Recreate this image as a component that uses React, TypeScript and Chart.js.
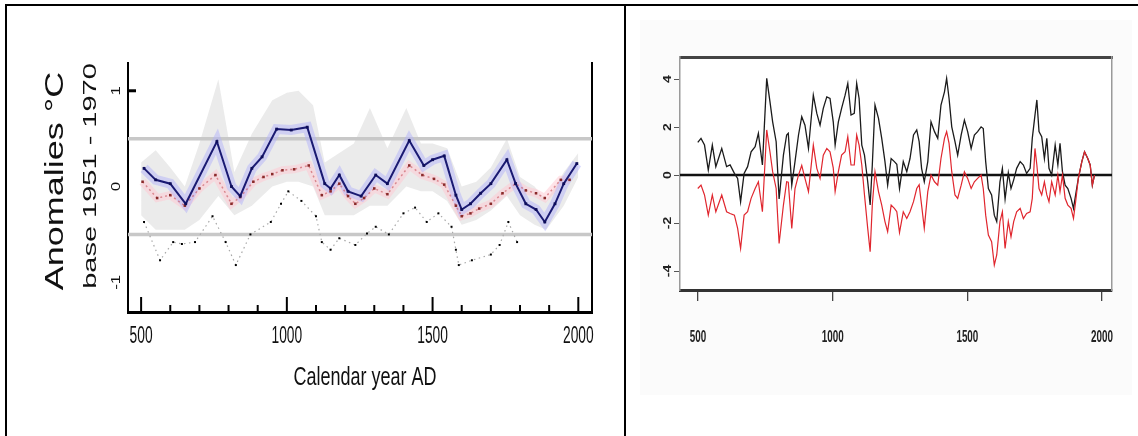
import React, { useEffect, useRef } from 'react';
import { Chart, registerables } from 'chart.js';
Chart.register(...registerables);

// ---------------- Left panel (reconstruction, anomalies °C) ----------------
const leftBlueYears = [510, 550, 600, 653, 760, 810, 840, 880, 915, 965, 1015, 1070, 1130, 1150, 1180, 1210, 1255, 1305, 1345, 1420, 1470, 1500, 1540, 1580, 1600, 1630, 1665, 1700, 1755, 1785, 1820, 1855, 1885, 1920, 1950, 1995];
const leftBlueValues = [0.19, 0.07, 0.03, -0.18, 0.47, 0.0, -0.1, 0.19, 0.31, 0.6, 0.59, 0.62, 0.03, -0.02, 0.12, -0.05, -0.1, 0.12, 0.03, 0.48, 0.22, 0.28, 0.32, -0.09, -0.24, -0.18, -0.07, 0.03, 0.28, 0.03, -0.18, -0.24, -0.37, -0.18, 0.03, 0.24];

const leftRedYears = [505, 555, 600, 650, 700, 755, 810, 840, 885, 920, 950, 985, 1025, 1075, 1120, 1150, 1180, 1210, 1235, 1265, 1300, 1345, 1420, 1465, 1505, 1540, 1580, 1600, 1630, 1660, 1700, 1740, 1785, 1820, 1855, 1885, 1940, 1970];
const leftRedValues = [0.05, -0.12, -0.09, -0.2, -0.02, 0.12, -0.18, -0.11, 0.05, 0.1, 0.13, 0.17, 0.18, 0.22, -0.09, -0.05, 0.03, -0.1, -0.18, -0.12, -0.02, -0.08, 0.22, 0.12, 0.08, 0.02, -0.2, -0.31, -0.28, -0.23, -0.18, -0.07, 0.03, -0.04, -0.07, -0.12, 0.07, 0.07];

const leftBlackYears = [510, 565, 610, 640, 685, 745, 790, 825, 875, 945, 980, 1005, 1050, 1100, 1120, 1150, 1180, 1235, 1275, 1305, 1350, 1400, 1440, 1480, 1520, 1565, 1580, 1590, 1635, 1700, 1730, 1760, 1790];
const leftBlackValues = [-0.37, -0.77, -0.58, -0.6, -0.58, -0.31, -0.58, -0.82, -0.5, -0.37, -0.18, -0.05, -0.15, -0.31, -0.58, -0.66, -0.54, -0.61, -0.49, -0.42, -0.5, -0.28, -0.22, -0.37, -0.28, -0.42, -0.66, -0.82, -0.77, -0.71, -0.61, -0.37, -0.58];

const leftBandYears = [500, 550, 600, 650, 700, 765, 820, 880, 950, 1000, 1040, 1090, 1130, 1180, 1230, 1285, 1345, 1410, 1460, 1500, 1550, 1600, 1650, 1700, 1755, 1800, 1850, 1890, 1950, 2000];
const leftBandUpper = [0.25, 0.38, 0.2, 0.0, 0.45, 1.12, 0.15, 0.55, 0.9, 0.98, 1.0, 0.85, 0.25, 0.35, 0.45, 0.82, 0.4, 0.82, 0.45, 0.45, 0.4, 0.0, 0.05, 0.2, 0.5, 0.1, 0.0, -0.15, 0.15, 0.35];
const leftBandLower = [-0.3, -0.45, -0.45, -0.45, -0.35, -0.1, -0.3, -0.2, 0.0, 0.05, 0.05, 0.0, -0.3, -0.3, -0.3, -0.2, -0.2, 0.0, -0.05, -0.05, -0.15, -0.4, -0.35, -0.25, -0.1, -0.3, -0.4, -0.45, -0.2, 0.1];

const leftRefLevels = [0.5, -0.5];
const leftXRange = [455, 2047];
const leftYRange = [-1.31, 1.29];
const leftXTickValues = [500, 1000, 1500, 2000];
const leftXTickLabels = ['500', '1000', '1500', '2000'];
const leftXMinorTicks = [600, 700, 800, 900, 1100, 1200, 1300, 1400, 1600, 1700, 1800, 1900];
const leftYTickValues = [1, 0, -1];
const leftYTickLabels = ['1', '0', '-1'];
const leftYTickMarks = [1];
const leftYTitle = ['Anomalies °C', 'base 1951 - 1970'];
const leftXTitle = 'Calendar year AD';

// ---------------- Right panel (two series around zero) ----------------
const rightYears = [
  499, 511, 524, 538, 553, 566, 588, 606, 619, 635,
  647, 658, 671, 684, 697, 712, 724, 739, 755, 767,
  777, 790, 801, 817, 829, 835, 848, 860, 873, 885,
  897, 910, 928, 941, 953, 965, 978, 990, 1002, 1009,
  1021, 1033, 1046, 1056, 1068, 1080, 1089, 1098, 1108, 1118,
  1130, 1139, 1147, 1157, 1170, 1182, 1194, 1204, 1217, 1229,
  1238, 1248, 1262, 1275, 1287, 1300, 1312, 1321, 1330, 1340,
  1353, 1365, 1378, 1390, 1402, 1415, 1423, 1432, 1442, 1454,
  1464, 1477, 1489, 1501, 1514, 1526, 1538, 1551, 1559, 1568,
  1578, 1590, 1600, 1609, 1621, 1630, 1640, 1652, 1662, 1672,
  1683, 1696, 1708, 1720, 1733, 1741, 1751, 1758, 1766, 1776,
  1786, 1795, 1803, 1813, 1826, 1836, 1844, 1853, 1863, 1873,
  1885, 1894, 1902, 1912, 1925, 1935, 1947, 1956, 1964, 1972,
];
const rightBlack = [
  1.36, 1.53, 1.25, 0.21, 1.25, 0.35, 1.11, 0.35, 0.42, 0.07,
  -0.14, -1.11, 0.07, 0.35, 0.97, 1.18, 1.74, 0.42, 4.03, 3.06,
  2.22, 1.39, -1.0, 0.83, 1.67, 1.74, -0.42, 0.56, 1.67, 2.43,
  2.08, 1.11, 3.33, 2.57, 2.08, 2.78, 3.26, 3.19, 2.22, 1.25,
  2.22, 2.78, 3.33, 3.82, 2.5, 2.57, 3.82, 3.19, 1.25, 0.83,
  -0.28, -1.25, 0.42, 2.92, 2.36, 1.53, 0.56, -0.42, 0.69, 0.56,
  0.45, -0.56, 0.56, 0.14, 0.69, 1.67, 1.88, 1.39, 0.28, -0.28,
  0.56, 2.22, 1.81, 1.53, 2.92, 3.47, 4.03, 3.19, 2.01, 1.39,
  0.83, 1.67, 2.29, 1.81, 1.11, 1.67, 1.81, 2.01, 1.94, 0.56,
  -0.56, -0.83, -1.67, -1.94, -0.28, 0.28, -1.0, 0.1, -0.56, -0.2,
  0.28, 0.56, 0.42, 0.07, 0.28, 1.53, 2.5, 3.13, 1.81, 1.6,
  0.69, 1.53, 0.28, 0.0, 1.25, 0.42, 1.32, 0.14, -0.42, -0.56,
  -0.97, -1.39, -0.83, -0.14, 0.56, 0.97, 0.69, 0.42, -0.42, 0.0,
];
const rightRed = [
  -0.56, -0.42, -0.83, -1.67, -0.83, -1.53, -0.83, -1.53, -1.6, -1.67,
  -2.22, -3.06, -1.67, -1.53, -0.97, -0.56, -0.28, -1.53, 1.88, 0.97,
  0.14, -0.56, -2.85, -1.25, -0.28, -0.3, -2.22, -0.56, 0.0, 0.4,
  -0.14, -0.69, 1.25, 0.28, -0.14, 0.83, 1.11, 0.97, 0.3, -0.69,
  0.14, 0.83, 0.97, 1.6, 0.42, 0.42, 1.67, 1.25, 0.42, -0.83,
  -2.22, -3.19, -1.25, 0.14, -0.69, -1.25, -1.94, -2.36, -1.25, -1.39,
  -1.53, -2.4, -1.53, -1.81, -1.53, -1.11, -0.56, -0.4, -1.25, -2.22,
  -0.69, 0.0, -0.28, -0.42, 0.69, 1.53, 1.81, 1.32, 0.14, -0.83,
  -0.97, -0.42, 0.14, -0.14, -0.56, -0.28, -0.14, 0.0, -0.56, -1.67,
  -2.5, -2.78, -3.75, -3.33, -1.94, -1.53, -3.06, -1.94, -2.57, -1.94,
  -1.53, -1.39, -1.81, -1.6, -1.53, -0.97, 1.11, 0.42, -0.56, -0.83,
  -0.28, -0.83, -1.11, -0.28, -0.83, 0.0, -0.69, 0.0, -0.97, -1.25,
  -1.39, -1.81, -1.11, -0.14, 0.56, 0.97, 0.69, 0.42, -0.42, 0.0,
];
const rightXRange = [433, 2037];
const rightYRange = [-4.79, 4.92];
const rightXTickValues = [500, 1000, 1500, 2000];
const rightXTickLabels = ['500', '1000', '1500', '2000'];
const rightYTickValues = [-4, -2, 0, 2, 4];
const rightYTickLabels = ['-4', '-2', '0', '2', '4'];

// ---------------- helpers ----------------
const FONT = '"Liberation Sans", Arial, Helvetica, sans-serif';
const pts = (xs: number[], ys: number[]) => xs.map((x, i) => ({ x, y: ys[i] }));

function txt(ctx: CanvasRenderingContext2D, s: string, x: number, y: number, size: number,
  o: { rot?: boolean; squeeze?: number; color?: string; align?: CanvasTextAlign; weight?: string } = {}) {
  ctx.save();
  ctx.font = `${o.weight || 'normal'} ${size}px ${FONT}`;
  ctx.fillStyle = o.color || '#111';
  ctx.textAlign = o.align || 'center';
  ctx.textBaseline = 'alphabetic';
  ctx.translate(x, y);
  if (o.rot) {
    ctx.rotate(-Math.PI / 2);
    ctx.scale(1, o.squeeze ?? 1);
  } else {
    ctx.scale(o.squeeze ?? 1, 1);
  }
  ctx.fillText(s, 0, 0);
  ctx.restore();
}

function seg(ctx: CanvasRenderingContext2D, x1: number, y1: number, x2: number, y2: number) {
  ctx.beginPath();
  ctx.moveTo(x1, y1);
  ctx.lineTo(x2, y2);
  ctx.stroke();
}

const leftDecor = {
  id: 'leftDecor',
  afterDraw(chart: any) {
    const { ctx, chartArea: a, scales } = chart;
    const x = scales.x, y = scales.y;
    ctx.save();
    ctx.strokeStyle = '#000';
    ctx.lineWidth = 2;
    leftXMinorTicks.forEach((v) => { const px = x.getPixelForValue(v); seg(ctx, px, a.bottom, px, a.bottom - 7); });
    leftXTickValues.forEach((v) => { const px = x.getPixelForValue(v); seg(ctx, px, a.bottom, px, a.bottom - 15); });
    ctx.lineWidth = 3;
    leftYTickMarks.forEach((v) => { const py = y.getPixelForValue(v); seg(ctx, a.left, py, a.left + 8, py); });
    ctx.restore();
    leftXTickValues.forEach((v, i) => txt(ctx, leftXTickLabels[i], x.getPixelForValue(v), a.bottom + 31, 23, { squeeze: 0.6 }));
    leftYTickValues.forEach((v, i) => txt(ctx, leftYTickLabels[i], a.left - 8, y.getPixelForValue(v), 17, { rot: true, squeeze: 0.8 }));
    txt(ctx, leftXTitle, 365, 385, 25, { squeeze: 0.72 });
    txt(ctx, leftYTitle[0], 63, 181, 36, { rot: true, squeeze: 0.72 });
    txt(ctx, leftYTitle[1], 96, 176, 29, { rot: true, squeeze: 0.64 });
  },
};

const rightDecor = {
  id: 'rightDecor',
  beforeDraw(chart: any) {
    const { ctx, chartArea: a } = chart;
    ctx.save();
    ctx.fillStyle = '#ffffff';
    ctx.fillRect(a.left, a.top, a.right - a.left, a.bottom - a.top);
    ctx.restore();
  },
  afterDraw(chart: any) {
    const { ctx, chartArea: a, scales } = chart;
    rightYTickValues.forEach((v, i) => txt(ctx, rightYTickLabels[i], a.left - 9, scales.y.getPixelForValue(v), 14, { rot: true, squeeze: 0.75, color: '#222', weight: 'bold' }));
    rightXTickValues.forEach((v, i) => txt(ctx, rightXTickLabels[i], scales.x.getPixelForValue(v), 342, 17, { squeeze: 0.58, color: '#222', weight: 'bold' }));
  },
};

const hidden = { display: false };

export default function App() {
  const leftRef = useRef<HTMLCanvasElement>(null);
  const rightRef = useRef<HTMLCanvasElement>(null);

  useEffect(() => {
    const left = new Chart(leftRef.current!, {
      type: 'line',
      data: {
        datasets: [
          { data: pts(leftBlueYears, leftBlueValues), borderColor: '#1a1a72', borderWidth: 2, pointStyle: 'rect', pointRadius: 2, pointBackgroundColor: '#0e0e5a', pointBorderWidth: 0, fill: false },
          { data: pts(leftRedYears, leftRedValues), borderColor: 'rgba(200,80,90,0.6)', borderWidth: 1.5, borderDash: [2, 3], pointStyle: 'rect', pointRadius: 1.8, pointBackgroundColor: '#8a2a2a', pointBorderWidth: 0, fill: false },
          { data: pts(leftBlackYears, leftBlackValues), borderColor: '#a8a8a8', borderWidth: 1.2, borderDash: [1.5, 3.5], pointStyle: 'rect', pointRadius: 1.4, pointBackgroundColor: '#000', pointBorderWidth: 0, fill: false },
          { data: pts(leftBlueYears, leftBlueValues), borderColor: 'rgba(180,180,250,0.5)', borderWidth: 10, pointRadius: 0, fill: false },
          { data: pts(leftRedYears, leftRedValues), borderColor: 'rgba(255,200,210,0.5)', borderWidth: 8, pointRadius: 0, fill: false },
          ...leftRefLevels.map((lv) => ({ data: [{ x: leftXRange[0], y: lv }, { x: leftXRange[1], y: lv }], borderColor: '#c8c8c8', borderWidth: 3.5, pointRadius: 0, fill: false })),
          { data: pts(leftBandYears, leftBandUpper), borderWidth: 0, borderColor: 'rgba(0,0,0,0)', backgroundColor: 'rgba(228,228,228,0.75)', pointRadius: 0, fill: '+1' },
          { data: pts(leftBandYears, leftBandLower), borderWidth: 0, borderColor: 'rgba(0,0,0,0)', pointRadius: 0, fill: false },
        ] as any,
      },
      options: {
        animation: false,
        responsive: false,
        events: [],
        layout: { padding: { top: 63, left: 0, right: 0, bottom: 0 } },
        plugins: { legend: hidden, tooltip: { enabled: false }, title: hidden },
        elements: { line: { tension: 0 } },
        scales: {
          x: { type: 'linear', position: 'bottom', min: leftXRange[0], max: leftXRange[1], grid: hidden, ticks: hidden, border: { display: true, color: '#000', width: 3 }, afterFit: (s: any) => { s.height = 124; } },
          y: { type: 'linear', position: 'left', min: leftYRange[0], max: leftYRange[1], grid: hidden, ticks: hidden, border: { display: true, color: '#000', width: 2 }, afterFit: (s: any) => { s.width = 128; } },
          y2: { type: 'linear', position: 'right', display: true, min: leftYRange[0], max: leftYRange[1], grid: hidden, ticks: hidden, border: { display: true, color: '#000', width: 2 }, afterFit: (s: any) => { s.width = 33; } },
        } as any,
      },
      plugins: [leftDecor],
    });

    const right = new Chart(rightRef.current!, {
      type: 'line',
      data: {
        datasets: [
          { data: pts(rightYears, rightRed), borderColor: '#e0262e', borderWidth: 1.2, pointRadius: 0, fill: false },
          { data: pts(rightYears, rightBlack), borderColor: '#1b1b1b', borderWidth: 1.3, pointRadius: 0, fill: false },
          { data: [{ x: rightXRange[0], y: 0 }, { x: rightXRange[1], y: 0 }], borderColor: '#111', borderWidth: 2.5, pointRadius: 0, fill: false },
        ] as any,
      },
      options: {
        animation: false,
        responsive: false,
        events: [],
        layout: { padding: 0 },
        plugins: { legend: hidden, tooltip: { enabled: false }, title: hidden },
        elements: { line: { tension: 0 } },
        scales: {
          x: {
            type: 'linear', position: 'bottom', min: rightXRange[0], max: rightXRange[1],
            grid: { display: true, drawOnChartArea: false, drawTicks: true, tickLength: 11, color: '#444', lineWidth: 1.3 },
            ticks: { display: false }, border: { display: true, color: '#333', width: 3 },
            afterBuildTicks: (s: any) => { s.ticks = rightXTickValues.map((v) => ({ value: v })); },
            afterFit: (s: any) => { s.height = 146; },
          },
          x2: { type: 'linear', position: 'top', display: true, min: rightXRange[0], max: rightXRange[1], grid: hidden, ticks: hidden, border: { display: true, color: '#444', width: 3 }, afterFit: (s: any) => { s.height = 57; } },
          y: {
            type: 'linear', position: 'left', min: rightYRange[0], max: rightYRange[1],
            grid: { display: true, drawOnChartArea: false, drawTicks: true, tickLength: 6, color: '#555', lineWidth: 1 },
            ticks: { display: false }, border: { display: true, color: '#9a9a9a', width: 1.5 },
            afterBuildTicks: (s: any) => { s.ticks = rightYTickValues.map((v) => ({ value: v })); },
            afterFit: (s: any) => { s.width = 50; },
          },
          y2: { type: 'linear', position: 'right', display: true, min: rightYRange[0], max: rightYRange[1], grid: hidden, ticks: hidden, border: { display: true, color: '#9a9a9a', width: 1.5 }, afterFit: (s: any) => { s.width = 26; } },
        } as any,
      },
      plugins: [rightDecor],
    });

    return () => {
      left.destroy();
      right.destroy();
    };
  }, []);

  return (
    <div style={{ position: 'absolute', left: 0, top: 0, width: 1138, height: 436, background: '#fff', overflow: 'hidden' }}>
      <div style={{ position: 'absolute', left: 640, top: 20, width: 492, height: 375, background: '#fbfbfb' }} />
      <canvas ref={leftRef} width={625} height={436} style={{ position: 'absolute', left: 0, top: 0 }} />
      <canvas ref={rightRef} width={508} height={436} style={{ position: 'absolute', left: 630, top: 0 }} />
      <div style={{ position: 'absolute', left: 5, top: 4, width: 1133, height: 2, background: '#000' }} />
      <div style={{ position: 'absolute', left: 5, top: 4, width: 2, height: 432, background: '#000' }} />
      <div style={{ position: 'absolute', left: 624, top: 4, width: 2, height: 432, background: '#000' }} />
    </div>
  );
}
